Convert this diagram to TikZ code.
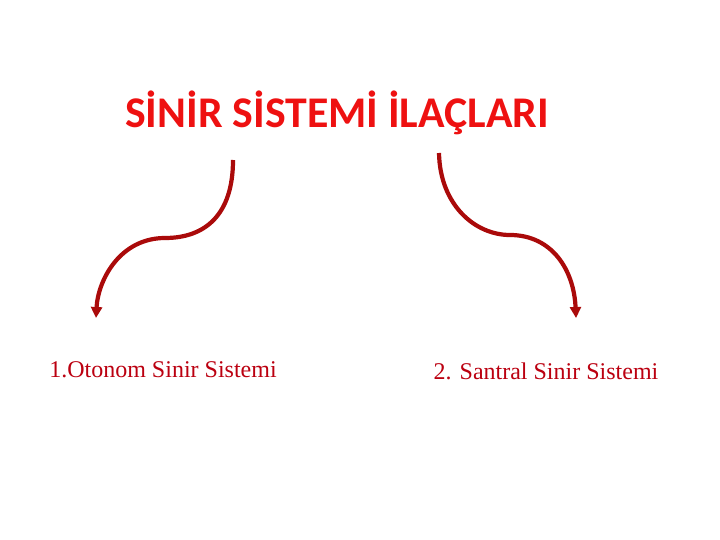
\documentclass[tikz,border=0pt]{standalone}
\usepackage{fontspec}
\setmainfont{Liberation Serif}
\newfontfamily\titlefont{Carlito}
\usetikzlibrary{arrows.meta}
\definecolor{titlered}{HTML}{EE1111}
\definecolor{arrowred}{HTML}{AA0A0A}
\definecolor{textred}{HTML}{BB0010}
\tikzset{
  titlestyle/.style={font=\titlefont\bfseries\fontsize{43.8}{48}\selectfont, text=titlered, inner sep=0pt},
  labelstyle/.style={font=\fontsize{24}{28}\selectfont, text=textred, inner sep=0pt},
  curvearrow/.style={draw=arrowred, line width=4.2pt, -{Triangle[length=11pt,width=11pt]}}
}
\begin{document}
\begin{tikzpicture}[x=1pt,y=-1pt]
\useasboundingbox (0,0) rectangle (720,540);
\node[titlestyle] (title) at (337,113) {SİNİR SİSTEMİ İLAÇLARI};
\node[labelstyle] (left) at (163,370) {1.Otonom Sinir Sistemi};
\node[labelstyle] (right) at (546,371) {2. Santral Sinir Sistemi};
\coordinate (ls) at (233,160);
\coordinate (lm) at (165,238);
\coordinate (le) at (96,318);
\coordinate (rs) at (439,153);
\coordinate (rm) at (510,235);
\coordinate (re) at (576,318);
\draw[curvearrow] (ls) .. controls (233,215) and (205,238) .. (lm) .. controls (120,238) and (98,280) .. (le);
\draw[curvearrow] (rs) .. controls (440,205) and (475,235) .. (rm) .. controls (552,235) and (574,270) .. (re);
\end{tikzpicture}
\end{document}
